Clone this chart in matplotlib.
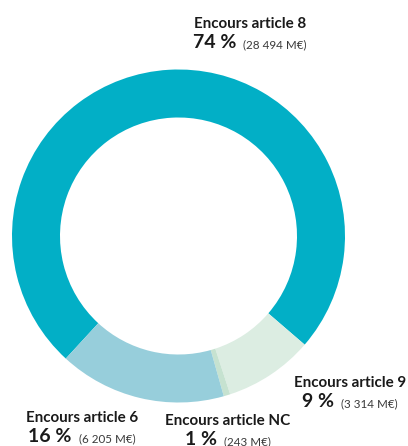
import matplotlib.pyplot as plt

# encours par classification SFDR (M€)
categories = ["Encours article 8", "Encours article 9", "Encours article NC", "Encours article 6"]
amounts = [28494, 3314, 243, 6205]
amount_labels = ["28 494 M€", "3 314 M€", "243 M€", "6 205 M€"]
colors = ["#02afc6", "#dcede2", "#c6e2d0", "#97cedb"]

# label anchors in pixel space (centre x, baseline of first line)
label_pos = [(250, 28), (350, 387), (228, 425), (82, 422)]

W, H = 408, 446
FONT = "Lato"

fig = plt.figure(figsize=(W / 100, H / 100), dpi=100)
ax = fig.add_axes([0, 0, 1, 1])

total = sum(amounts)
ax.pie(amounts, colors=colors, center=(178.5, H - 236), radius=166.5,
       startangle=227.4, counterclock=False,
       wedgeprops=dict(width=48, linewidth=0))
ax.set_xlim(0, W)
ax.set_ylim(0, H)
ax.set_aspect("equal")
ax.axis("off")

fig.canvas.draw()
renderer = fig.canvas.get_renderer()

for cat, amt, lab, (cx, by) in zip(categories, amounts, amount_labels, label_pos):
    ax.text(cx, H - by, cat, ha="center", va="baseline", fontsize=10.9,
            fontweight="bold", family=FONT, color="#1a1a1a")
    pct = ax.text(0, H - by - 20, f"{round(amt / total * 100)} %", ha="left",
                  va="baseline", fontsize=14, fontweight="bold",
                  family=FONT, color="#1a1a1a")
    val = ax.text(0, H - by - 20, f"({lab})", ha="left", va="baseline",
                  fontsize=8.4, family=FONT, fontweight="normal", color="#3a3a3a")
    # centre the percent + amount pair under the category name
    w1 = pct.get_window_extent(renderer).width
    w2 = val.get_window_extent(renderer).width
    gap = 7
    x0 = cx - (w1 + gap + w2) / 2
    pct.set_x(x0)
    val.set_x(x0 + w1 + gap)

fig.savefig("out.png", dpi=100)
